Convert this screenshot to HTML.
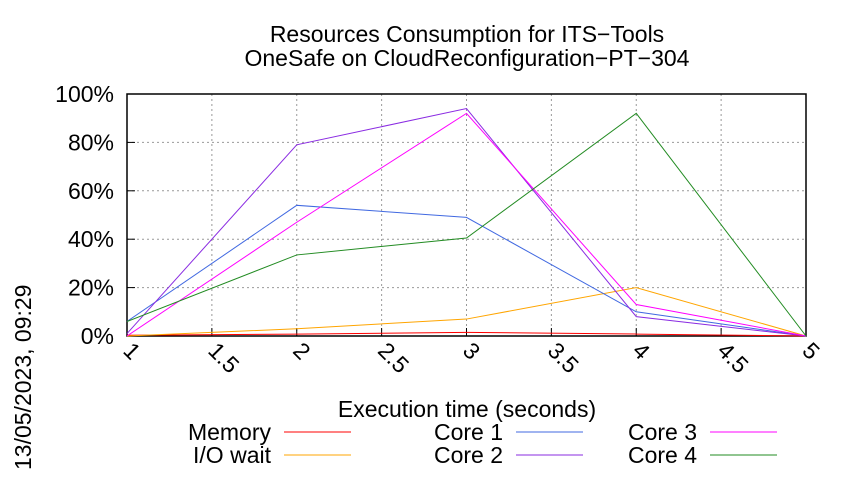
<!DOCTYPE html>
<html><head><meta charset="utf-8"><style>
body{margin:0;background:#fff;}
svg text{font-family:"Liberation Sans",sans-serif;}
</style></head><body>
<svg id="chart" width="850" height="475" xmlns="http://www.w3.org/2000/svg">
<text x="467" y="42" text-anchor="middle" font-size="23">Resources Consumption for ITS−Tools</text>
<text x="467" y="66" text-anchor="middle" font-size="23">OneSafe on CloudReconfiguration−PT−304</text>
<text x="467" y="417" text-anchor="middle" font-size="23">Execution time (seconds)</text>
<text transform="translate(31,470) rotate(-90)" x="0" y="0" font-size="23">13/05/2023, 09:29</text>
<g id="grid"></g><g id="series"></g><g id="legend"></g>
</svg>
<script>
const xValues=[1,2,3,4,5];
const xTicks=[1,1.5,2,2.5,3,3.5,4,4.5,5];
const yTicks=[0,20,40,60,80,100];
const seriesNames=["Memory","I/O wait","Core 1","Core 2","Core 3","Core 4"];
const seriesColors=["#ff0000","#ffa500","#4169e1","#8a2be2","#ff00ff","#228b22"];
const memory=[0.3,0.8,1.5,0.8,0];
const ioWait=[0,3,7,20,0];
const core1=[6,54,49,10,0];
const core2=[1,79,94,8,0];
const core3=[0,47,92,13,0];
const core4=[6,33.5,40.5,92,0];
const seriesData=[memory,ioWait,core1,core2,core3,core4];
const NS="http://www.w3.org/2000/svg";
const L=127,R=806,T=94,B=336;
const xs=v=>L+(v-1)/4*(R-L);
const ys=v=>B-v/100*(B-T);
function mk(t,a,p){const e=document.createElementNS(NS,t);for(const k in a)e.setAttribute(k,a[k]);p.appendChild(e);return e;}
const g=document.getElementById('grid');
yTicks.forEach(v=>{
 if(v>0&&v<100){const l=mk('line',{x1:L,x2:R,y1:ys(v),y2:ys(v),stroke:'#999','stroke-dasharray':'2,3'},g);
 
 }
 const tk=mk('line',{x1:L,x2:L+8,y1:ys(v),y2:ys(v),stroke:'#000'},g);
 
 
 const t=mk('text',{x:L-13,y:ys(v)+8,'text-anchor':'end','font-size':'23'},g);t.textContent=v+'%';
 
 
});
xTicks.forEach(v=>{
 if(v>1&&v<5){const l=mk('line',{x1:xs(v),x2:xs(v),y1:T,y2:B,stroke:'#999','stroke-dasharray':'2,3'},g);
 
 }
 const tk=mk('line',{x1:xs(v),x2:xs(v),y1:B,y2:B-8,stroke:'#000'},g);
 
 
 const t=mk('text',{x:0,y:0,'font-size':'23',transform:`translate(${xs(v)-5},${B+16}) rotate(45)`},g);t.textContent=String(v);
 
 
});
const fr=mk('rect',{x:L,y:T,width:R-L,height:B-T,fill:'none',stroke:'#000','stroke-width':1.5},g);


const s=document.getElementById('series');
seriesData.forEach((d,i)=>{
 const p=mk('polyline',{points:d.map((v,j)=>xs(xValues[j])+','+ys(v)).join(' '),fill:'none',stroke:seriesColors[i],'stroke-width':1},s);
 
 
});
const lg=document.getElementById('legend');
const legPos=[[271,440],[271,463],[503,440],[503,463],[697,440],[697,463]];
seriesNames.forEach((n,i)=>{
 const [x,y]=legPos[i];
 const t=mk('text',{x:x,y:y,'text-anchor':'end','font-size':'23'},lg);t.textContent=n;
 
 
 const l=mk('line',{x1:x+13,x2:x+80,y1:y-8,y2:y-8,stroke:seriesColors[i]},lg);
 
 
});
</script>
</body></html>
